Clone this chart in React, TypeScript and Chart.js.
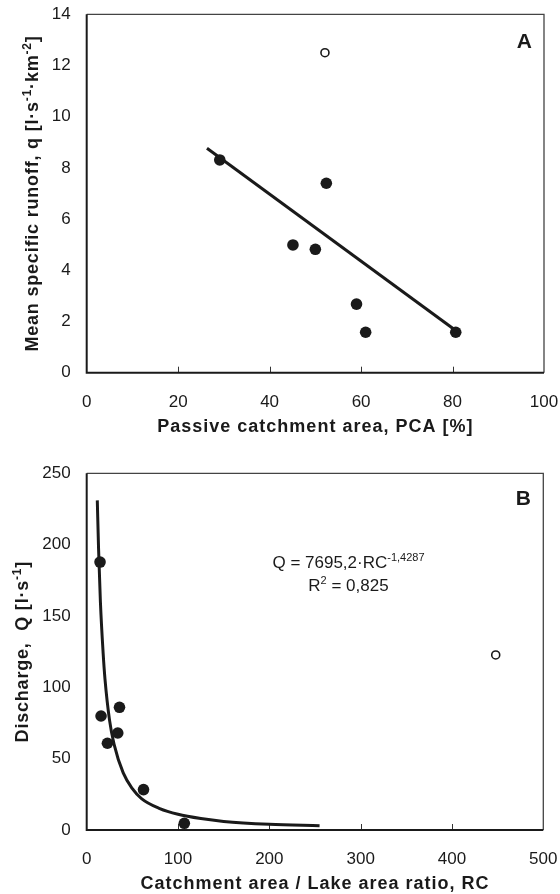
import React, { useEffect, useRef } from "react";
import { Chart, registerables } from "chart.js";

Chart.register(...registerables);

// ---------- Panel A data ----------
const pcaFilled = [29.1, 45.1, 50.0, 52.4, 59.0, 61.0, 80.7];
const qFilled = [8.31, 4.99, 4.82, 7.4, 2.68, 1.58, 1.58];
const pcaOpen = [52.1];
const qOpen = [12.5];
const trendPca = [26.3, 80.7];
const trendQ = [8.77, 1.65];
const xTicksA = [0, 20, 40, 60, 80, 100];
const yTicksA = [0, 2, 4, 6, 8, 10, 12, 14];

// ---------- Panel B data ----------
const rcFilled = [14.6, 15.7, 22.7, 34.0, 35.9, 62.2, 106.9];
const dischargeFilled = [187.8, 79.9, 60.8, 68.0, 86.0, 28.3, 4.7];
const rcOpen = [447.9];
const dischargeOpen = [122.7];
const curveRc = [11.6, 13, 15, 18, 20, 25, 30, 40, 50, 60, 80, 100, 125, 150, 200, 255];
const curveQ = [231, 197, 160, 124, 106, 77, 60, 40, 29, 22, 15, 11, 8, 6, 4, 3];
const xTicksB = [0, 100, 200, 300, 400, 500];
const yTicksB = [0, 50, 100, 150, 200, 250];

const FAMILY = '"Liberation Sans", Arial, Helvetica, sans-serif';
const INK = "#1a1a1a";

type Part = { t: string; sup?: boolean };

function drawRich(
  ctx: CanvasRenderingContext2D,
  parts: Part[],
  x: number,
  y: number,
  o: { size: number; bold?: boolean; align: "left" | "center" | "right"; rotate?: number; spacing?: number }
) {
  ctx.save();
  ctx.translate(x, y);
  if (o.rotate) ctx.rotate(o.rotate);
  const fontFor = (sup?: boolean) =>
    `${o.bold ? "bold " : ""}${sup ? Math.round(o.size * 0.64) : o.size}px ${FAMILY}`;
  (ctx as any).letterSpacing = `${o.spacing || 0}px`;
  const widths: number[] = [];
  let total = 0;
  for (const p of parts) {
    ctx.font = fontFor(p.sup);
    const w = ctx.measureText(p.t).width;
    widths.push(w);
    total += w;
  }
  let cx = o.align === "center" ? -total / 2 : o.align === "right" ? -total : 0;
  ctx.textAlign = "left";
  ctx.textBaseline = "alphabetic";
  ctx.fillStyle = INK;
  parts.forEach((p, i) => {
    ctx.font = fontFor(p.sup);
    ctx.fillText(p.t, cx, p.sup ? -o.size * 0.4 : 0);
    cx += widths[i];
  });
  ctx.restore();
}

type PanelText = {
  yTitle: Part[];
  xTitle: Part[];
  label: string;
  labelPos: [number, number];
  xTitleBaseline: number;
  yTitleBaseline: number;
  extra?: (ctx: CanvasRenderingContext2D) => void;
};

function makePlugin(txt: PanelText) {
  return {
    id: "decor",
    beforeDatasetsDraw(chart: any) {
      const ctx: CanvasRenderingContext2D = chart.ctx;
      const { left, right, top, bottom } = chart.chartArea;
      ctx.save();
      ctx.strokeStyle = "#444";
      ctx.lineWidth = 1.3;
      ctx.beginPath();
      ctx.moveTo(left, top);
      ctx.lineTo(right, top);
      ctx.lineTo(right, bottom);
      ctx.stroke();
      const xs = chart.scales.x;
      ctx.strokeStyle = "#333";
      ctx.lineWidth = 1;
      xs.ticks.forEach((t: any) => {
        if (t.value <= xs.min || t.value >= xs.max) return;
        const px = Math.round(xs.getPixelForValue(t.value)) + 0.5;
        ctx.beginPath();
        ctx.moveTo(px, bottom);
        ctx.lineTo(px, bottom - 6);
        ctx.stroke();
      });
      ctx.strokeStyle = INK;
      ctx.lineWidth = 2;
      ctx.beginPath();
      ctx.moveTo(left, top);
      ctx.lineTo(left, bottom);
      ctx.lineTo(right, bottom);
      ctx.stroke();
      ctx.restore();
    },
    afterDraw(chart: any) {
      const ctx: CanvasRenderingContext2D = chart.ctx;
      const { left, right, top, bottom } = chart.chartArea;
      drawRich(ctx, txt.xTitle, (left + right) / 2, txt.xTitleBaseline, {
        size: 18,
        bold: true,
        align: "center",
        spacing: 1,
      });
      drawRich(ctx, txt.yTitle, txt.yTitleBaseline, (top + bottom) / 2, {
        size: 18,
        bold: true,
        align: "center",
        rotate: -Math.PI / 2,
        spacing: 0.8,
      });
      drawRich(ctx, [{ t: txt.label }], txt.labelPos[0], txt.labelPos[1], {
        size: 21,
        bold: true,
        align: "right",
      });
      if (txt.extra) txt.extra(ctx);
    },
  };
}

function axisOpts(min: number, max: number, ticks: number[], isX: boolean, fitSize: number, padding: number) {
  return {
    type: "linear",
    min,
    max,
    afterBuildTicks: (s: any) => {
      s.ticks = ticks.map((v) => ({ value: v }));
    },
    afterFit: (s: any) => {
      if (isX) s.height = fitSize;
      else s.width = fitSize;
      s.paddingLeft = 0;
      s.paddingRight = 0;
      s.paddingTop = 0;
      s.paddingBottom = 0;
    },
    grid: { display: false, drawTicks: false },
    border: { display: false },
    ticks: {
      padding,
      color: INK,
      font: { size: 17, family: FAMILY },
      maxRotation: 0,
      autoSkip: false,
    },
  };
}

function Panel(props: { config: any; top: number; height: number }) {
  const ref = useRef<HTMLCanvasElement>(null);
  useEffect(() => {
    const chart = new Chart(ref.current as HTMLCanvasElement, props.config);
    return () => chart.destroy();
  }, []);
  return (
    <div style={{ position: "absolute", left: 0, top: props.top, width: 560, height: props.height }}>
      <canvas ref={ref} width={560} height={props.height} style={{ width: 560, height: props.height }} />
    </div>
  );
}

const filledStyle = {
  pointRadius: 5.8,
  pointBackgroundColor: INK,
  pointBorderColor: INK,
  pointBorderWidth: 0,
  showLine: false,
};
const openStyle = {
  pointRadius: 4,
  pointBackgroundColor: "#fff",
  pointBorderColor: INK,
  pointBorderWidth: 1.6,
  showLine: false,
};

const configA = {
  type: "scatter",
  data: {
    datasets: [
      {
        data: trendPca.map((x, i) => ({ x, y: trendQ[i] })),
        showLine: true,
        borderColor: INK,
        borderWidth: 3,
        pointRadius: 0,
        order: 3,
      },
      { data: pcaFilled.map((x, i) => ({ x, y: qFilled[i] })), ...filledStyle, order: 1 },
      { data: pcaOpen.map((x, i) => ({ x, y: qOpen[i] })), ...openStyle, order: 2 },
    ],
  },
  options: {
    animation: false,
    responsive: false,
    devicePixelRatio: 1,
    layout: { padding: { top: 14.3, right: 16, left: 0, bottom: 0 } },
    plugins: { legend: { display: false }, tooltip: { enabled: false } },
    scales: {
      x: axisOpts(0, 100, xTicksA, true, 67.3, 19),
      y: axisOpts(0, 14, yTicksA, false, 86.7, 16),
    },
  },
  plugins: [
    makePlugin({
      yTitle: [
        { t: "Mean specific runoff, q [l·s" },
        { t: "-1", sup: true },
        { t: "·km" },
        { t: "-2", sup: true },
        { t: "]" },
      ],
      xTitle: [{ t: "Passive catchment area, PCA [%]" }],
      label: "A",
      labelPos: [532, 47.7],
      xTitleBaseline: 431.7,
      yTitleBaseline: 38.3,
    }),
  ],
};

const configB = {
  type: "scatter",
  data: {
    datasets: [
      {
        data: curveRc.map((x, i) => ({ x, y: curveQ[i] })),
        showLine: true,
        borderColor: INK,
        borderWidth: 3,
        pointRadius: 0,
        cubicInterpolationMode: "monotone",
        order: 3,
      },
      { data: rcFilled.map((x, i) => ({ x, y: dischargeFilled[i] })), ...filledStyle, order: 1 },
      { data: rcOpen.map((x, i) => ({ x, y: dischargeOpen[i] })), ...openStyle, order: 2 },
    ],
  },
  options: {
    animation: false,
    responsive: false,
    devicePixelRatio: 1,
    layout: { padding: { top: 33.3, right: 16.7, left: 0, bottom: 0 } },
    plugins: { legend: { display: false }, tooltip: { enabled: false } },
    scales: {
      x: axisOpts(0, 500, xTicksB, true, 64, 19),
      y: axisOpts(0, 250, yTicksB, false, 86.7, 16),
    },
  },
  plugins: [
    makePlugin({
      yTitle: [{ t: "Discharge,  Q [l·s" }, { t: "-1", sup: true }, { t: "]" }],
      xTitle: [{ t: "Catchment area / Lake area ratio, RC" }],
      label: "B",
      labelPos: [531, 65],
      xTitleBaseline: 449,
      yTitleBaseline: 28.3,
      extra: (ctx) => {
        drawRich(
          ctx,
          [{ t: "Q = 7695,2·RC" }, { t: "-1,4287", sup: true }],
          348.5,
          128,
          { size: 17, align: "center" }
        );
        drawRich(ctx, [{ t: "R" }, { t: "2", sup: true }, { t: " = 0,825" }], 348.5, 151, {
          size: 17,
          align: "center",
        });
      },
    }),
  ],
};

export default function App() {
  return (
    <div style={{ position: "absolute", left: 0, top: 0, width: 560, height: 894, background: "#fff" }}>
      <Panel config={configA} top={0} height={440} />
      <Panel config={configB} top={440} height={454} />
    </div>
  );
}
